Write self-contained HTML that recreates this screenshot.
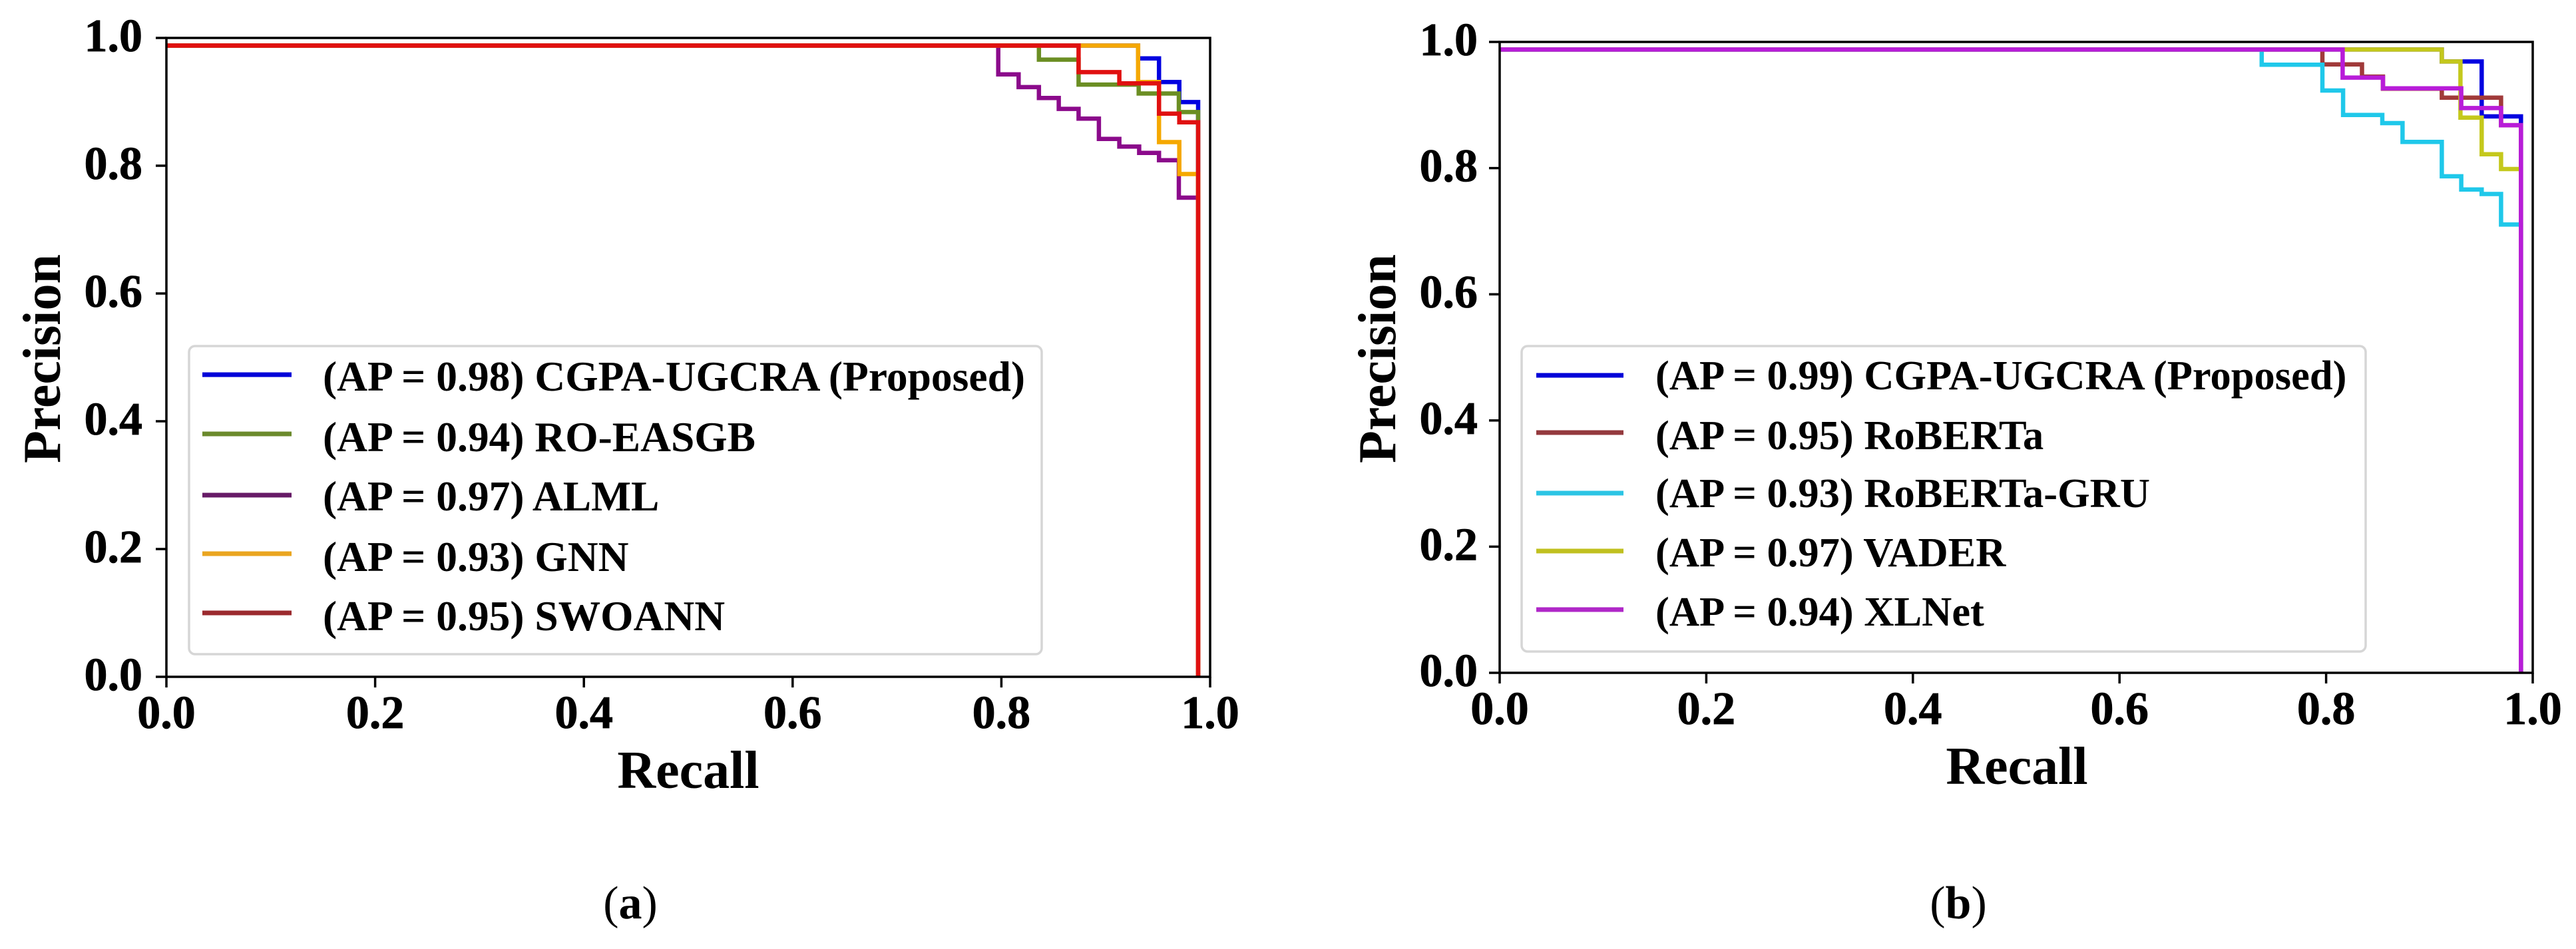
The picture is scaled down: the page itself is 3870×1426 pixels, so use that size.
<!DOCTYPE html>
<html lang="en">
<head>
<meta charset="utf-8">
<title>Precision-Recall curves</title>
<style>
html,body{margin:0;padding:0;background:#fff;}
body{width:3870px;height:1426px;overflow:hidden;}
svg{display:block;}
text{font-family:"Liberation Serif",serif;fill:#000;}
</style>
</head>
<body>
<svg id="chart" width="3870" height="1426" viewBox="0 0 3870 1426" xmlns="http://www.w3.org/2000/svg">
  <rect x="0" y="0" width="3870" height="1426" fill="#ffffff"/>
  <g id="panel-a"></g>
  <g id="panel-b"></g>
  <text x="947" y="1380" font-size="70" text-anchor="middle">(<tspan font-weight="bold">a</tspan>)</text>
  <text x="2942" y="1380" font-size="70" text-anchor="middle">(<tspan font-weight="bold">b</tspan>)</text>
</svg>
<script>
// Shared tick labels
const tickValues = [0, 0.2, 0.4, 0.6, 0.8, 1.0];
const tickLabels = ["0.0", "0.2", "0.4", "0.6", "0.8", "1.0"];

// Panel (a): step curves. recall[i] is where the curve steps to precision[i].
const aBlueRecall = [0, 0.931, 0.951, 0.9705, 0.9885];
const aBluePrecision = [0.988, 0.968, 0.931, 0.8996, 0];
const aGreenRecall = [0, 0.836, 0.874, 0.9316, 0.97, 0.9885];
const aGreenPrecision = [0.988, 0.966, 0.927, 0.913, 0.884, 0];
const aPurpleRecall = [0, 0.797, 0.8165, 0.836, 0.855, 0.874, 0.8934, 0.913, 0.932, 0.951, 0.97, 0.9885];
const aPurplePrecision = [0.988, 0.943, 0.923, 0.906, 0.889, 0.8736, 0.842, 0.83, 0.82, 0.8086, 0.75, 0];
const aOrangeRecall = [0, 0.931, 0.951, 0.9705, 0.9885];
const aOrangePrecision = [0.988, 0.931, 0.837, 0.787, 0];
const aRedRecall = [0, 0.874, 0.913, 0.951, 0.9705, 0.9885];
const aRedPrecision = [0.988, 0.9465, 0.929, 0.8815, 0.868, 0];
const aLabels = ["(AP = 0.98) CGPA-UGCRA (Proposed)", "(AP = 0.94) RO-EASGB", "(AP = 0.97) ALML", "(AP = 0.93) GNN", "(AP = 0.95) SWOANN"];

// Panel (b): step curves.
const bBlueRecall = [0, 0.912, 0.9506, 0.9886];
const bBluePrecision = [0.988, 0.969, 0.882, 0];
const bBrownRecall = [0, 0.7964, 0.8347, 0.855, 0.912, 0.9693, 0.9886];
const bBrownPrecision = [0.988, 0.9645, 0.945, 0.9258, 0.9117, 0.868, 0];
const bCyanRecall = [0, 0.7376, 0.7964, 0.8164, 0.8544, 0.874, 0.912, 0.9308, 0.9506, 0.9693, 0.9886];
const bCyanPrecision = [0.988, 0.9638, 0.923, 0.8843, 0.8713, 0.8415, 0.787, 0.766, 0.759, 0.7106, 0];
const bOliveRecall = [0, 0.912, 0.93, 0.9506, 0.9693, 0.9886];
const bOlivePrecision = [0.988, 0.969, 0.88, 0.822, 0.7985, 0];
const bMagentaRecall = [0, 0.816, 0.855, 0.9308, 0.9693, 0.9886];
const bMagentaPrecision = [0.988, 0.9435, 0.9265, 0.8952, 0.868, 0];
const bLabels = ["(AP = 0.99) CGPA-UGCRA (Proposed)", "(AP = 0.95) RoBERTa", "(AP = 0.93) RoBERTa-GRU", "(AP = 0.97) VADER", "(AP = 0.94) XLNet"];

const NS = "http://www.w3.org/2000/svg";

function make(parent, tag, attrs, txt) {
  const el = document.createElementNS(NS, tag);
  for (const k in attrs) el.setAttribute(k, attrs[k]);
  if (txt !== undefined) el.textContent = txt;
  parent.appendChild(el);
  return el;
}

function drawPanel(cfg) {
  const root = document.getElementById(cfg.id);
  const xOf = function (r) { return cfg.left + (cfg.right - cfg.left) * r; };
  const yOf = function (p) { return cfg.bottom - (cfg.bottom - cfg.top) * p; };

  // Curves
  cfg.series.forEach(function (s) {
    let d = "M" + xOf(s.recall[0]).toFixed(1) + " " + yOf(s.precision[0]).toFixed(1);
    for (let i = 1; i < s.recall.length; i++) {
      d += "H" + xOf(s.recall[i]).toFixed(1) + "V" + yOf(s.precision[i]).toFixed(1);
    }
    const curve = make(root, "path", {d: d, fill: "none", stroke: s.color, "stroke-width": 6.5, "stroke-linejoin": "miter"});
    
    
  });

  // Frame
  const frame = make(root, "rect", {x: cfg.left, y: cfg.top, width: cfg.right - cfg.left, height: cfg.bottom - cfg.top, fill: "none", stroke: "#000", "stroke-width": 3.5});
  
  

  // Ticks and tick labels
  tickValues.forEach(function (v, i) {
    const xt = make(root, "line", {x1: xOf(v), x2: xOf(v), y1: cfg.bottom, y2: cfg.bottom + 16, stroke: "#000", "stroke-width": 3.5});
    
    
    const yt = make(root, "line", {x1: cfg.left - 16, x2: cfg.left, y1: yOf(v), y2: yOf(v), stroke: "#000", "stroke-width": 3.5});
    
    
    const xl = make(root, "text", {x: xOf(v), y: cfg.xTickBase, "font-size": 70, "font-weight": "bold", "text-anchor": "middle", stroke: "#000", "stroke-width": 0.8}, tickLabels[i]);
    
    
    const yl = make(root, "text", {x: cfg.yTickRight, y: yOf(v) + 20, "font-size": 70, "font-weight": "bold", "text-anchor": "end", stroke: "#000", "stroke-width": 0.8}, tickLabels[i]);
    
    
  });

  // Axis titles
  const xTitle = make(root, "text", {x: cfg.xTitleX, y: cfg.xTitleBase, "font-size": 80, "font-weight": "bold", "text-anchor": "middle"}, "Recall");
  
  
  const yTitle = make(root, "text", {x: 0, y: 0, "font-size": 80, "font-weight": "bold", "text-anchor": "middle", transform: "translate(" + cfg.yTitleX + " 539) rotate(-90)"}, "Precision");
  
  

  // Legend
  const box = make(root, "rect", {x: cfg.legend.x, y: cfg.legend.y, width: cfg.legend.w, height: cfg.legend.h, rx: 9, fill: "#fff", stroke: "#d6d6d6", "stroke-width": 3.5});
  
  
  cfg.series.forEach(function (s, i) {
    const swatch = make(root, "line", {x1: cfg.legend.sx1, x2: cfg.legend.sx2, y1: cfg.legend.sy[i], y2: cfg.legend.sy[i], stroke: s.swatch, "stroke-width": 7});
    
    
    const label = make(root, "text", {x: cfg.legend.tx, y: cfg.legend.ty[i], "font-size": cfg.legend.fs, "font-weight": "bold"}, cfg.labels[i]);
    
    
  });
}

drawPanel({
  id: "panel-a", left: 250, right: 1818, top: 57, bottom: 1017,
  xTickBase: 1094, yTickRight: 214, xTitleX: 1034, xTitleBase: 1184, yTitleX: 90,
  labels: aLabels,
  series: [
    {key: "cgpa-ugcra", recall: aBlueRecall, precision: aBluePrecision, color: "#0000e0", swatch: "#0000d8"},
    {key: "ro-easgb", recall: aGreenRecall, precision: aGreenPrecision, color: "#6b8e23", swatch: "#6b8a2c"},
    {key: "alml", recall: aPurpleRecall, precision: aPurplePrecision, color: "#8b0a8b", swatch: "#661a66"},
    {key: "gnn", recall: aOrangeRecall, precision: aOrangePrecision, color: "#f5a800", swatch: "#eaa520"},
    {key: "swoann", recall: aRedRecall, precision: aRedPrecision, color: "#e01010", swatch: "#9b2a2e"}
  ],
  legend: {x: 284, y: 520, w: 1281, h: 463, sx1: 304, sx2: 438, sy: [563, 652, 744, 832, 921], tx: 485, ty: [587, 678, 767, 858, 947], fs: 63.5}
});

drawPanel({
  id: "panel-b", left: 2253, right: 3805, top: 63, bottom: 1011,
  xTickBase: 1088, yTickRight: 2220, xTitleX: 3030, xTitleBase: 1178, yTitleX: 2096,
  labels: bLabels,
  series: [
    {key: "cgpa-ugcra", recall: bBlueRecall, precision: bBluePrecision, color: "#0000e0", swatch: "#0000d8"},
    {key: "roberta", recall: bBrownRecall, precision: bBrownPrecision, color: "#a03a3a", swatch: "#943a3e"},
    {key: "roberta-gru", recall: bCyanRecall, precision: bCyanPrecision, color: "#1fc8ea", swatch: "#2cc4e4"},
    {key: "vader", recall: bOliveRecall, precision: bOlivePrecision, color: "#c4c81c", swatch: "#c0c020"},
    {key: "xlnet", recall: bMagentaRecall, precision: bMagentaPrecision, color: "#b81cd8", swatch: "#b028c8"}
  ],
  legend: {x: 2286, y: 520, w: 1268, h: 459, sx1: 2308, sx2: 2439, sy: [564, 650, 741, 828, 916], tx: 2487, ty: [585, 675, 762, 851, 940], fs: 62.5}
});
</script>
</body>
</html>
